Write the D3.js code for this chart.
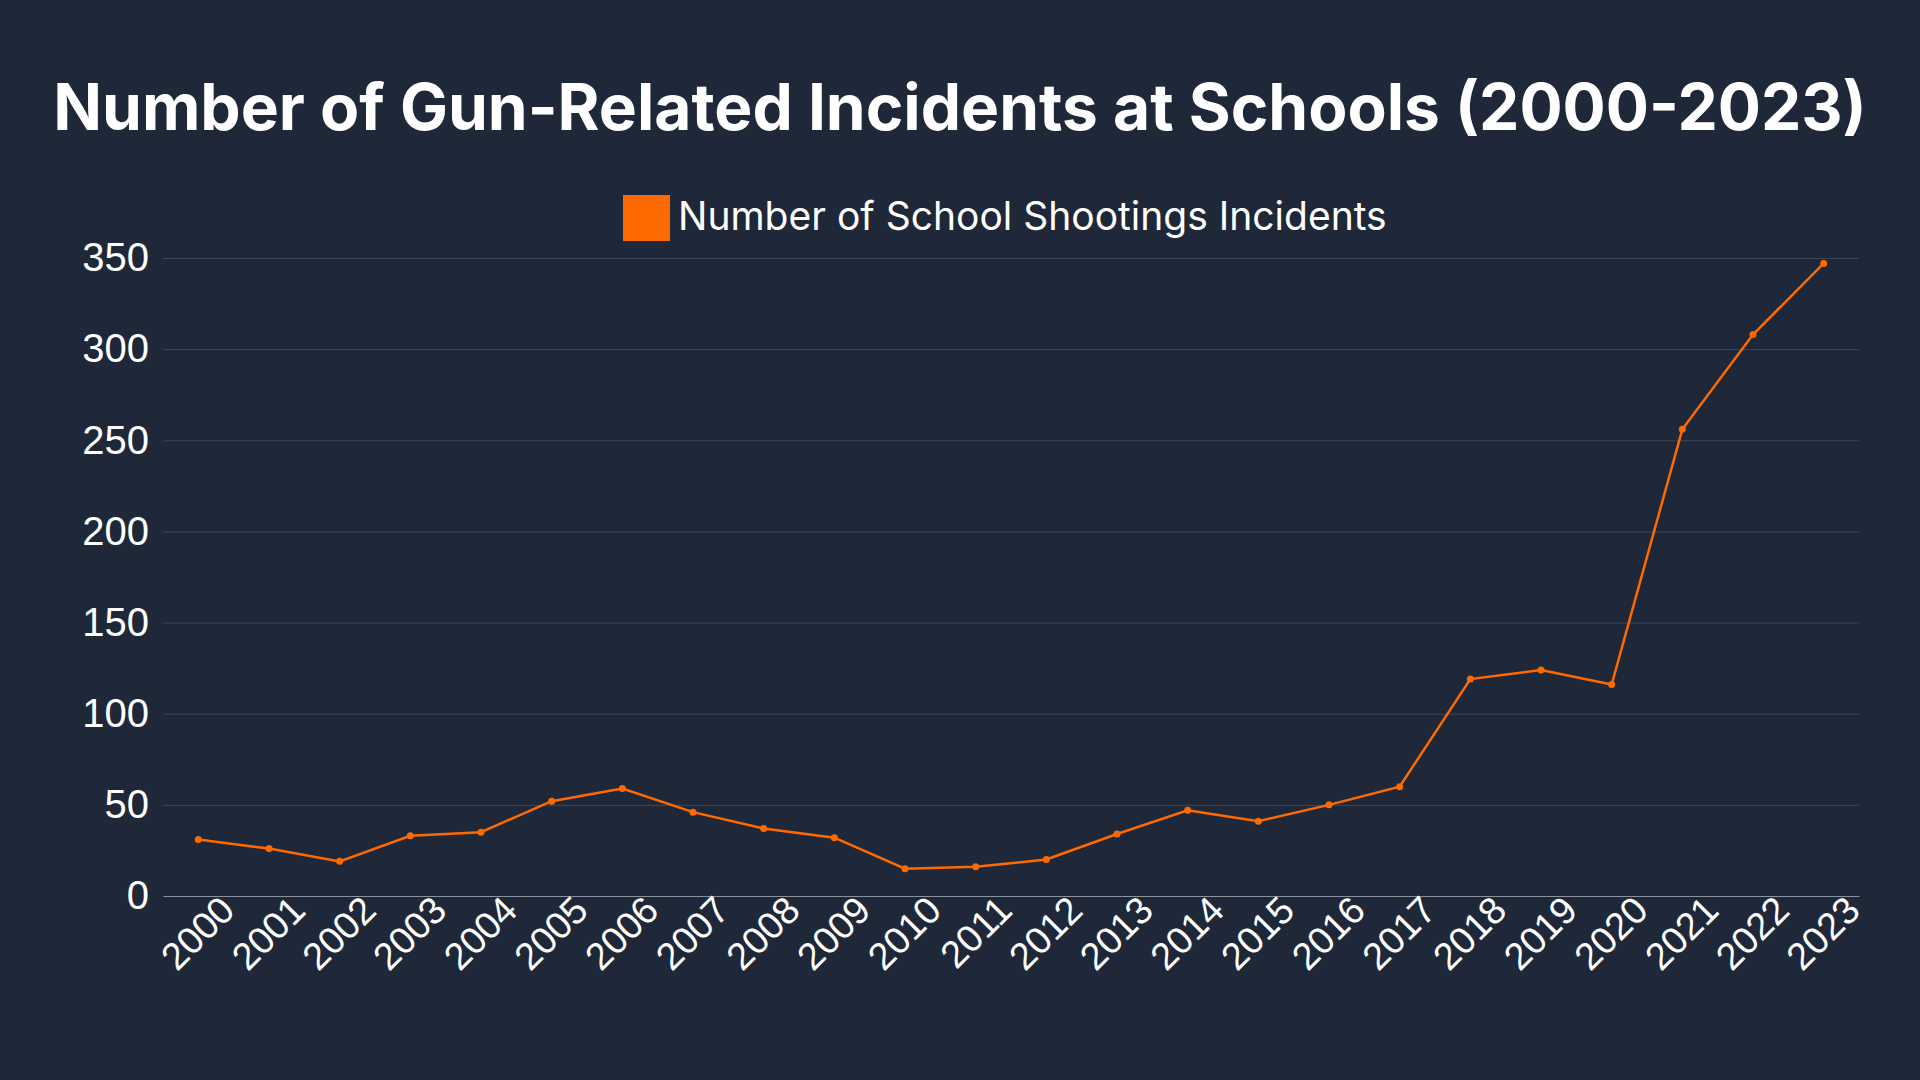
<!DOCTYPE html>
<html><head><meta charset="utf-8">
<script src="https://cdn.jsdelivr.net/npm/d3@7"></script>
<style>
body{margin:0;background:#1e2838;}
svg{display:block;font-family:Inter,"Noto Sans",sans-serif;}
</style></head>
<body><svg id="chart"></svg>
<script>
// Chart data
const years = ['2000','2001','2002','2003','2004','2005','2006','2007','2008','2009','2010','2011',
  '2012','2013','2014','2015','2016','2017','2018','2019','2020','2021','2022','2023'];
const incidents = [31,26,19,33,35,52,59,46,37,32,15,16,20,34,47,41,50,60,119,124,116,256,308,347];
const yTicks = [0,50,100,150,200,250,300,350];
const seriesName = 'Number of School Shootings Incidents';

const width = 1920, height = 1080;
const margin = { top: 258, right: 61, bottom: 184, left: 163 };
const color = '#ff6a00';

const svg = d3.select('#chart').attr('width', width).attr('height', height);
svg.append('rect').attr('width', width).attr('height', height).attr('fill', '#1e2838');

const xScale = d3.scalePoint().domain(years)
    .range([margin.left, width - margin.right]).padding(0.5);
const yScale = d3.scaleLinear().domain([0, 350])
    .range([height - margin.bottom, margin.top]);

// Title
svg.append('text')
    .attr('x', width / 2).attr('y', 130)
    .attr('text-anchor', 'middle')
    .attr('fill', '#fff')
    .style('font-size', '64px').style('font-weight', 'bold')
    .text('Number of Gun-Related Incidents at Schools (2000-2023)');

// Legend
const legend = svg.append('g');
legend.append('rect').attr('x', 623).attr('y', 195).attr('width', 47).attr('height', 46).attr('fill', color);
legend.append('text').attr('x', 678).attr('y', 230)
    .attr('fill', '#fff').style('font-size', '39px').text(seriesName);

// Grid + y axis
const yAxis = d3.axisLeft(yScale).tickValues(yTicks)
    .tickSize(-(width - margin.left - margin.right)).tickPadding(32);
const gy = svg.append('g').attr('transform', `translate(${margin.left},0)`).call(yAxis);
gy.select('.domain').remove();
gy.selectAll('.tick line').attr('stroke', '#3e4757').attr('stroke-width', 1);
gy.selectAll('.tick text').attr('fill', '#fff').style('font-size', '40px').attr('dx', '1.2em').attr('text-anchor', 'end');
gy.selectAll('.tick text').attr('x', -14).attr('dx', 0);

// x axis
const xAxis = d3.axisBottom(xScale).tickSize(0).tickPadding(10);
const gx = svg.append('g').attr('transform', `translate(0,${height - margin.bottom})`).call(xAxis);
gx.select('.domain').attr('stroke', '#8a919c');
gx.selectAll('.tick text').attr('fill', '#fff').style('font-size', '38px')
    .attr('text-anchor', 'end').attr('dx', '0.4em').attr('dy', '0.75em')
    .attr('transform', 'rotate(-45)');

// Line
const line = d3.line().x((d, i) => xScale(years[i])).y(d => yScale(d));
svg.append('path').datum(incidents)
    .attr('fill', 'none').attr('stroke', color).attr('stroke-width', 2.5)
    .attr('d', line);
svg.selectAll('.pt').data(incidents).enter().append('circle')
    .attr('cx', (d, i) => xScale(years[i])).attr('cy', d => yScale(d))
    .attr('r', 3.5).attr('fill', color);
</script></body></html>
